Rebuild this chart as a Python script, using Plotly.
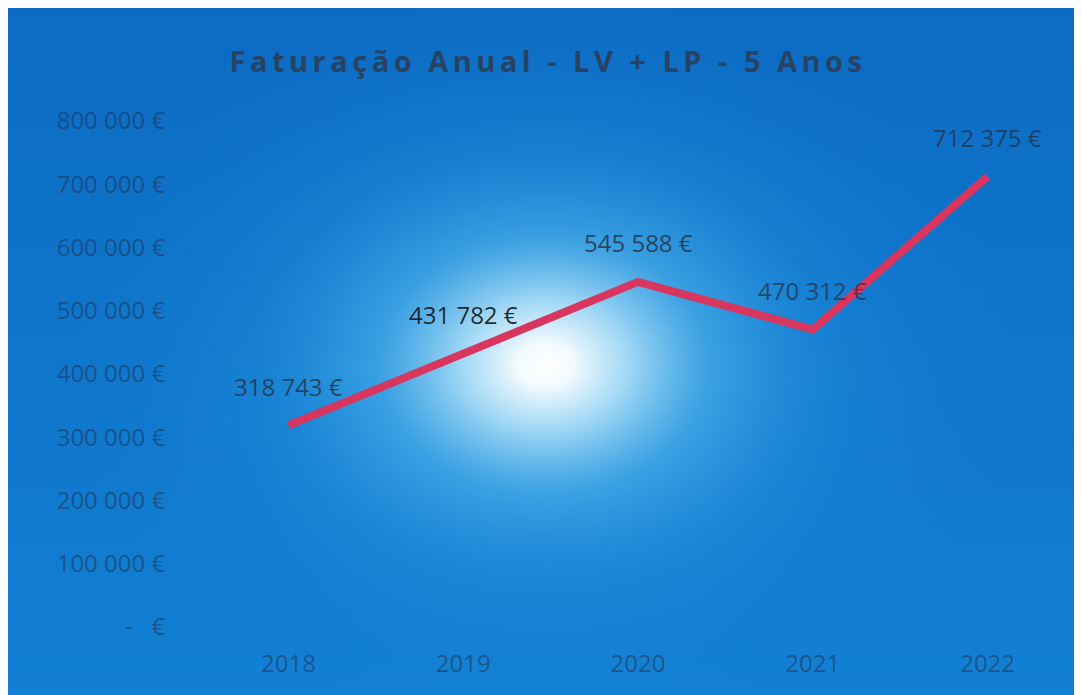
import base64
import plotly.graph_objects as go

# ---- data ----
years = ["2018", "2019", "2020", "2021", "2022"]
revenue = [318743, 431782, 545588, 470312, 712375]
label_texts = ["318 743 €", "431 782 €", "545 588 €", "470 312 €", "712 375 €"]
label_colors = ["rgba(35,45,60,0.75)", "rgba(25,30,40,0.95)", "rgba(35,45,60,0.8)",
                "rgba(35,45,60,0.7)", "rgba(35,45,60,0.7)"]
y_tick_vals = [0, 100000, 200000, 300000, 400000, 500000, 600000, 700000, 800000]
y_tick_text = ["-   €", "100 000 €", "200 000 €", "300 000 €", "400 000 €",
               "500 000 €", "600 000 €", "700 000 €", "800 000 €"]
title_text = "Faturação Anual - LV + LP - 5 Anos"

# ---- geometry (pixels) ----
W, H = 1074, 687
L, R, T, B = 193, 7, 113, 68
pw, ph = W - L - R, H - T - B
gx, gy = 537, 357  # glow centre

svg = f'''<svg xmlns="http://www.w3.org/2000/svg" width="{W}" height="{H}" viewBox="0 0 {W} {H}">
<defs>
<linearGradient id="lin" x1="0" y1="0" x2="0" y2="1">
<stop offset="0" stop-color="#0c6bc3"/>
<stop offset="1" stop-color="#1280d4"/>
</linearGradient>
<radialGradient id="rad" gradientUnits="userSpaceOnUse" cx="{gx}" cy="{gy}" r="470" gradientTransform="translate({gx} {gy}) scale(1 0.78) translate({-gx} {-gy})">
<stop offset="0" stop-color="#ffffff" stop-opacity="1"/>
<stop offset="0.06" stop-color="#f2fafe" stop-opacity="1"/>
<stop offset="0.18" stop-color="#a6dcf7" stop-opacity="0.95"/>
<stop offset="0.35" stop-color="#4db3ec" stop-opacity="0.7"/>
<stop offset="0.6" stop-color="#2596e0" stop-opacity="0.35"/>
<stop offset="0.85" stop-color="#1a8ad8" stop-opacity="0.1"/>
<stop offset="1" stop-color="#1a8ad8" stop-opacity="0"/>
</radialGradient>
</defs>
<rect x="0" y="0" width="{W}" height="{H}" fill="url(#lin)"/>
<rect x="0" y="0" width="{W}" height="{H}" fill="url(#rad)"/>
</svg>'''
src = "data:image/svg+xml;base64," + base64.b64encode(svg.encode("utf-8")).decode("ascii")

fig = go.Figure()
fig.add_trace(go.Scatter(
    x=years, y=revenue, mode="lines",
    line=dict(color="#d8355f", width=8),
    hoverinfo="skip", showlegend=False,
))

# category axis: annotations positioned by category index
for i, (yv, txt, col) in enumerate(zip(revenue, label_texts, label_colors)):
    fig.add_annotation(
        x=i, y=yv, xref="x", yref="y", text=txt, showarrow=False, yshift=39,
        font=dict(family="Open Sans", size=24, color=col),
    )

fig.update_layout(
    width=W, height=H,
    margin=dict(l=L, r=R, t=T, b=B),
    paper_bgcolor="#1176cc",
    plot_bgcolor="rgba(0,0,0,0)",
    title=dict(
        text=f'<span style="letter-spacing:4.5px">{title_text}</span>',
        x=540 / W, xanchor="center", y=1 - 54 / H, yanchor="middle",
        font=dict(family="Open Sans", size=29, color="rgba(45,60,80,0.85)", weight="bold"),
    ),
    images=[dict(
        source=src, xref="paper", yref="paper",
        x=-L / pw, y=(H - B) / ph,
        sizex=W / pw, sizey=H / ph,
        xanchor="left", yanchor="top", sizing="stretch", layer="below",
    )],
    xaxis=dict(
        type="category", categoryorder="array", categoryarray=years, range=[-0.5, 4.5],
        showgrid=False, zeroline=False, showline=False,
        tickfont=dict(family="Open Sans", size=24, color="rgba(30,50,80,0.55)"),
        ticks="outside", ticklen=15, tickcolor="rgba(0,0,0,0)",
    ),
    yaxis=dict(
        range=[0, 800000], showgrid=False, zeroline=False, showline=False,
        tickvals=y_tick_vals, ticktext=y_tick_text,
        tickfont=dict(family="Open Sans", size=24, color="rgba(30,50,80,0.55)"),
        ticks="outside", ticklen=30, tickcolor="rgba(0,0,0,0)",
    ),
)

fig.write_html("out.html")
